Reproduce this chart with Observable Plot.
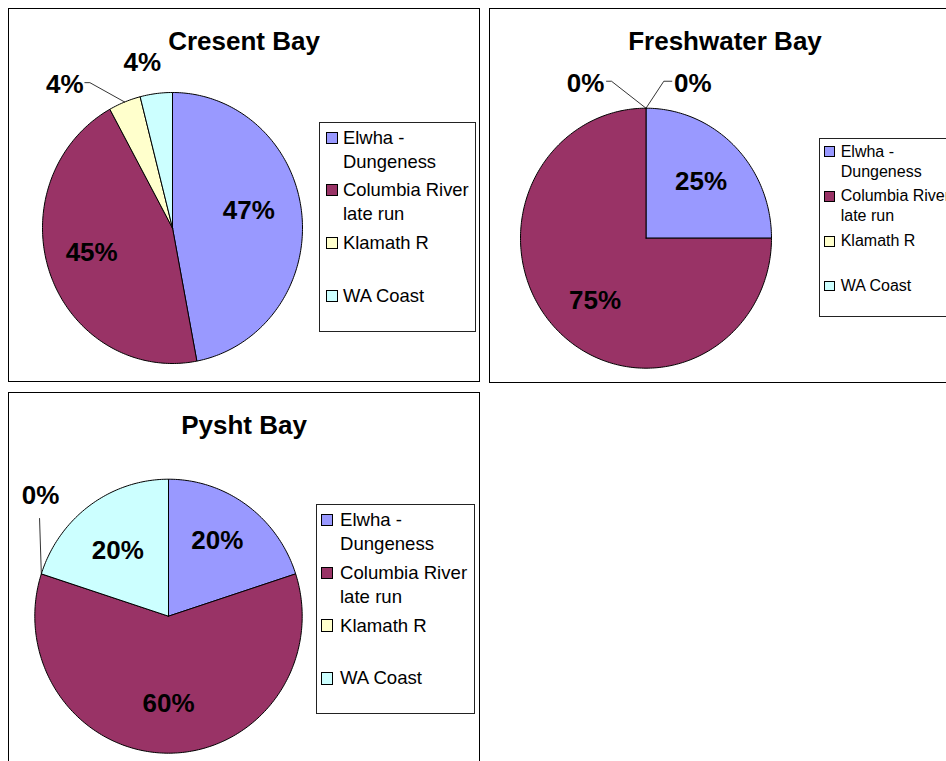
<!DOCTYPE html>
<html><head><meta charset="utf-8">
<script src="https://cdn.jsdelivr.net/npm/d3@7"></script>
<script src="https://cdn.jsdelivr.net/npm/@observablehq/plot@0.6"></script>
<style>
html,body{margin:0;padding:0;background:#fff;overflow:hidden;width:946px;height:761px;}
body{position:relative;font-family:"Liberation Sans",Arial,sans-serif;color:#000;}
.frame{position:absolute;border:1px solid #000;box-sizing:border-box;background:#fff;}
.title{position:absolute;text-align:center;font-weight:bold;font-size:26px;line-height:30px;white-space:nowrap;}
.legend{position:absolute;border:1px solid #222;box-sizing:border-box;background:#fff;overflow:hidden;}
.legend .item{position:absolute;left:0;white-space:nowrap;}
.legend .sq{position:absolute;border:1px solid #000;box-sizing:border-box;}
.plotwrap{position:absolute;}
</style></head><body>
<script>
// ---- data ----
const categories = ["Elwha - Dungeness", "Columbia River late run", "Klamath R", "WA Coast"];
const legendLines = [["Elwha -", "Dungeness"], ["Columbia River", "late run"], ["Klamath R"], ["WA Coast"]];
const colors = ["#9999FF", "#993366", "#FFFFCC", "#CCFFFF"];
const bays = ["Cresent Bay", "Freshwater Bay", "Pysht Bay"];
const crescentValues = [47, 45, 4, 4];
const freshwaterValues = [25, 75, 0, 0];
const pyshtValues = [20, 60, 0, 20];
const bayValues = [crescentValues, freshwaterValues, pyshtValues];

// ---- layout (page pixels) ----
const layouts = [
  {frame: [8, 8, 472, 374], pie: [172, 227.5, 130, 135.5], titleTop: 26,
   legend: {box: [319, 122, 157, 209.5], first: 14.5, slot: 52.7, lineH: 24, fs: 18.4, sq: 12, sqLeft: 5.5, textLeft: 23},
   nudge: {0: [-4, -9], 1: [-5, -4]},
   outside: {2: {pos: [-0.828, 1.058], leader: [[20, -2], [25, -2]]}, 3: {pos: [-0.233, 1.218], leader: null}}},
  {frame: [489, 8, 472, 375], pie: [645.5, 237.7, 125.5, 130], titleTop: 26,
   legend: {box: [819, 137.7, 160, 179.5], first: 13, slot: 44.8, lineH: 20, fs: 16, sq: 10.5, sqLeft: 4.3, textLeft: 20.7},
   nudge: {1: [4, 5]},
   outside: {2: {pos: [-0.482, 1.192], leader: [[21, -2], [26, -2]]}, 3: {pos: [0.373, 1.192], leader: [[-21, -2], [-29, -2]]}}},
  {frame: [8, 392, 472, 380], pie: [168, 615.7, 133.7, 137], titleTop: 410.3,
   legend: {box: [315.7, 504.3, 159.5, 210], first: 14.7, slot: 52.8, lineH: 24, fs: 18.6, sq: 12.5, sqLeft: 4.3, textLeft: 23.3},
   nudge: {0: [0, -7], 1: [0, 3], 3: [-2, 3]},
   outside: {2: {pos: [-0.957, 0.881], leader: [[-1, 23]]}}}
];

const insideR = 0.62;
const toRad = Math.PI / 180;

function el(tag, cls, style, text) {
  const e = document.createElement(tag);
  if (cls) e.className = cls;
  Object.assign(e.style, style || {});
  if (text != null) e.textContent = text;
  return e;
}

bays.forEach((bay, b) => {
  const L = layouts[b];
  const values = bayValues[b];
  const [fl, ft, fw, fh] = L.frame;
  const [cx, cy, rx, ry] = L.pie;
  document.body.appendChild(el("div", "frame", {left: fl + "px", top: ft + "px", width: fw + "px", height: fh + "px"}));

  const total = d3.sum(values);
  let acc = 0;
  const slices = values.map((v, i) => {
    const a0 = acc / total * 360; acc += v; const a1 = acc / total * 360;
    return {i, v, a0, a1, mid: (a0 + a1) / 2, label: Math.round(v / total * 100) + "%"};
  });

  const marks = [];
  slices.forEach(s => {
    if (s.v <= 0) return;
    const pts = [[0, 0]];
    const n = Math.max(2, Math.ceil((s.a1 - s.a0) / 1));
    for (let k = 0; k <= n; k++) {
      const a = (s.a0 + (s.a1 - s.a0) * k / n) * toRad;
      pts.push([Math.sin(a), Math.cos(a)]);
    }
    pts.push([0, 0]);
    marks.push(Plot.line(pts, {x: d => d[0], y: d => d[1], fill: colors[s.i], stroke: "#000", strokeWidth: 1, curve: "linear", strokeLinejoin: "miter"}));
  });

  const labelData = [];
  const leaders = [];
  slices.forEach(s => {
    const o = L.outside[s.i];
    if (o) {
      const [lx, ly] = o.pos;
      labelData.push({x: lx, y: ly, text: s.label});
      if (o.leader) {
        const pts = o.leader.map(([px, py]) => [lx + px / rx, ly - py / ry]);
        const m = s.mid * toRad;
        pts.push([Math.sin(m), Math.cos(m)]);
        leaders.push(pts);
      }
    } else {
      const m = s.mid * toRad;
      const [nx, ny] = (L.nudge && L.nudge[s.i]) || [0, 0];
      labelData.push({x: insideR * Math.sin(m) + nx / rx, y: insideR * Math.cos(m) - ny / ry, text: s.label});
    }
  });
  leaders.forEach(p => marks.push(Plot.line(p, {x: d => d[0], y: d => d[1], stroke: "#000", strokeWidth: 0.8, curve: "linear"})));
  marks.push(Plot.text(labelData, {x: "x", y: "y", text: "text", fontSize: 26, fontWeight: "bold", fill: "#000", textAnchor: "middle", lineAnchor: "middle"}));

  const chart = Plot.plot({
    width: fw, height: fh, margin: 0,
    x: {type: "linear", domain: [-1, 1], range: [cx - rx - fl, cx + rx - fl], axis: null},
    y: {type: "linear", domain: [-1, 1], range: [cy + ry - ft, cy - ry - ft], axis: null},
    style: {background: "transparent", fontFamily: "'Liberation Sans', Arial, sans-serif", overflow: "visible", maxWidth: "none"},
    marks
  });
  const wrap = el("div", "plotwrap", {left: fl + "px", top: ft + "px", width: fw + "px", height: fh + "px"});
  wrap.appendChild(chart);
  document.body.appendChild(wrap);

  document.body.appendChild(el("div", "title", {left: fl + "px", top: L.titleTop + "px", width: fw + "px"}, bay));

  const G = L.legend;
  const [lx, ly, lw, lh] = G.box;
  const box = el("div", "legend", {left: lx + "px", top: ly + "px", width: lw + "px", height: lh + "px", fontSize: G.fs + "px", lineHeight: G.lineH + "px"});
  categories.forEach((c, i) => {
    const center = G.first + i * G.slot;
    const sq = el("div", "sq", {left: G.sqLeft + "px", top: (center - G.sq / 2) + "px", width: G.sq + "px", height: G.sq + "px", background: colors[i]});
    box.appendChild(sq);
    legendLines[i].forEach((line, j) => {
      box.appendChild(el("div", "item", {left: G.textLeft + "px", top: (center - G.lineH / 2 + j * G.lineH) + "px"}, line));
    });
  });
  document.body.appendChild(box);
});
</script>
</body></html>
